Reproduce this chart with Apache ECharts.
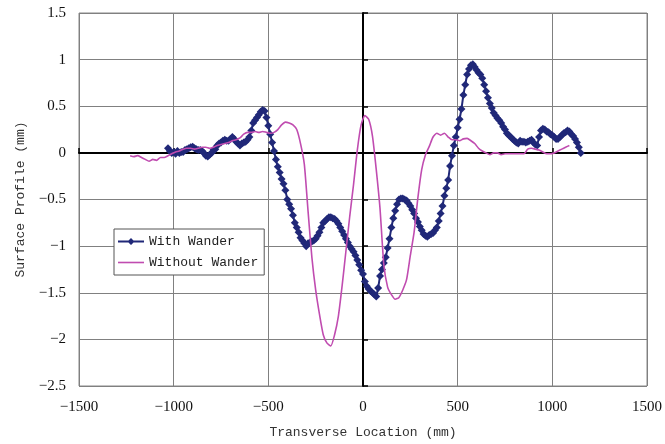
<!DOCTYPE html>
<html><head><meta charset="utf-8">
<script src="https://cdn.jsdelivr.net/npm/echarts@6/dist/echarts.min.js"></script>
<style>html,body{margin:0;padding:0;background:#fff}#c{width:665px;height:444px}</style>
</head><body><div id="c"></div>
<script>
// ---- data ----
const withStart = -1030, withStep = 10;
const withWander = [
 0.05,0.02,0.00,0.01,-0.01,0.02,0.00,0.01,0.01,0.03,
 0.04,0.05,0.06,0.065,0.05,0.04,0.03,0.03,0.02,0.00,
 -0.03,-0.04,-0.02,0.00,0.03,0.04,0.08,0.10,0.11,0.13,
 0.14,0.13,0.13,0.15,0.17,0.15,0.12,0.10,0.08,0.10,
 0.11,0.12,0.14,0.17,0.24,0.32,0.35,0.38,0.41,0.44,
 0.46,0.45,0.38,0.29,0.20,0.11,0.02,-0.07,-0.15,-0.21,
 -0.28,-0.33,-0.40,-0.50,-0.55,-0.60,-0.67,-0.75,-0.80,-0.85,
 -0.91,-0.94,-0.97,-1.00,-0.97,-0.96,-0.95,-0.94,-0.92,-0.89,
 -0.85,-0.80,-0.75,-0.73,-0.71,-0.69,-0.69,-0.70,-0.71,-0.73,
 -0.76,-0.80,-0.84,-0.88,-0.92,-0.96,-1.00,-1.03,-1.06,-1.10,
 -1.15,-1.20,-1.26,-1.30,-1.38,-1.43,-1.46,-1.48,-1.50,-1.52,
 -1.54,-1.45,-1.32,-1.25,-1.18,-1.12,-1.02,-0.92,-0.80,-0.70,
 -0.62,-0.55,-0.50,-0.49,-0.49,-0.50,-0.51,-0.54,-0.57,-0.61,
 -0.65,-0.70,-0.74,-0.79,-0.83,-0.87,-0.89,-0.90,-0.88,-0.87,
 -0.86,-0.83,-0.80,-0.73,-0.65,-0.57,-0.46,-0.38,-0.29,-0.14,
 -0.03,0.08,0.17,0.27,0.36,0.47,0.62,0.73,0.84,0.90,
 0.94,0.95,0.92,0.89,0.86,0.84,0.80,0.73,0.66,0.59,
 0.53,0.48,0.43,0.40,0.37,0.35,0.32,0.28,0.25,0.21,
 0.19,0.17,0.15,0.13,0.11,0.10,0.13,0.12,0.12,0.11,
 0.12,0.13,0.14,0.11,0.09,0.08,0.17,0.24,0.26,0.25,
 0.23,0.22,0.20,0.19,0.17,0.15,0.15,0.17,0.19,0.21,
 0.22,0.24,0.23,0.20,0.18,0.15,0.11,0.06,0.00
];
const withoutStart = -1230, withoutStep = 20;
const withoutWander = [
 -0.03,-0.04,-0.03,-0.05,-0.07,-0.09,-0.07,-0.08,-0.05,-0.05,
 -0.03,-0.01,0.01,0.02,0.04,0.05,0.05,0.04,0.05,0.06,
 0.06,0.05,0.06,0.08,0.09,0.10,0.11,0.13,0.14,0.16,
 0.20,0.22,0.22,0.23,0.22,0.23,0.22,0.21,0.22,0.25,
 0.30,0.33,0.32,0.30,0.25,0.10,-0.12,-0.63,-1.12,-1.47,
 -1.73,-1.95,-2.04,-2.07,-1.95,-1.75,-1.42,-1.05,-0.68,-0.34,
 0.03,0.30,0.40,0.36,0.18,-0.18,-0.60,-1.20,-1.44,-1.52,
 -1.57,-1.55,-1.47,-1.36,-1.10,-0.85,-0.48,-0.18,-0.02,0.07,
 0.17,0.21,0.19,0.21,0.17,0.14,0.14,0.13,0.15,0.155,
 0.13,0.10,0.05,0.02,0.00,-0.02,0.00,0.00,-0.02,-0.01,
 -0.01,-0.01,-0.01,-0.01,-0.01,0.04,0.05,0.04,0.03,0.01,
 -0.01,-0.01,0.00,0.02,0.04,0.06,0.08
];
const xTicks = {min:-1500, max:1500, interval:500};
const yTicks = {min:-2.5, max:1.5, interval:0.5};
const seriesNames = ['With Wander','Without Wander'];
const xTitle = 'Transverse Location (mm)';
const yTitle = 'Surface Profile (mm)';

const pairs = (start, step, arr) => arr.map((v,i)=>[start+i*step, v]);
const fmt = v => String(v).replace('-', '\u2212');

const chart = echarts.init(document.getElementById('c'), null, {renderer:'canvas'});
const serif = '"Liberation Serif", serif';
const mono = '"Liberation Mono", monospace';
chart.setOption({
  animation:false,
  backgroundColor:'#fff',
  grid:{left:79, right:17, top:13, bottom:58, show:true, borderColor:'#888', borderWidth:1, containLabel:false},
  legend:{
    left:114, top:229, orient:'vertical', itemGap:8, itemWidth:26, itemHeight:14,
    padding:[6,6,6,4], borderColor:'#555', borderWidth:1, backgroundColor:'#fff',
    textStyle:{fontFamily:mono, fontSize:13, color:'#222'},
    data:[
      {name:seriesNames[0], icon:'path://M0,6h26v2h-26z M13,3.5L16.5,7L13,10.5L9.5,7z'},
      {name:seriesNames[1], icon:'path://M0,0h26v1.6h-26z'}
    ]
  },
  xAxis:[{
    type:'value', min:xTicks.min, max:xTicks.max, interval:xTicks.interval,
    axisLine:{show:false, onZero:false}, axisTick:{show:false},
    axisLabel:{fontFamily:serif, fontSize:15, color:'#111', margin:14, formatter:fmt},
    splitLine:{lineStyle:{color:'#808080', width:1}},
    name:xTitle, nameLocation:'middle', nameGap:40,
    nameTextStyle:{fontFamily:mono, fontSize:13, color:'#333'}
  },{
    type:'value', min:xTicks.min, max:xTicks.max, interval:xTicks.interval, position:'bottom',
    axisLine:{show:true, onZero:true, onZeroAxisIndex:0, lineStyle:{color:'#000', width:2}},
    axisTick:{show:true, inside:true, length:5, lineStyle:{color:'#000', width:1.5}},
    axisLabel:{show:false}, splitLine:{show:false}
  }],
  yAxis:[{
    type:'value', min:yTicks.min, max:yTicks.max, interval:yTicks.interval,
    axisLine:{show:false, onZero:false}, axisTick:{show:false},
    axisLabel:{fontFamily:serif, fontSize:15, color:'#111', margin:13, formatter:fmt},
    splitLine:{lineStyle:{color:'#808080', width:1}},
    name:yTitle, nameLocation:'middle', nameGap:52,
    nameTextStyle:{fontFamily:mono, fontSize:13, color:'#333'}
  },{
    type:'value', min:yTicks.min, max:yTicks.max, interval:yTicks.interval, position:'left',
    axisLine:{show:true, onZero:true, onZeroAxisIndex:0, lineStyle:{color:'#000', width:2}},
    axisTick:{show:true, inside:true, length:5, lineStyle:{color:'#000', width:1.5}},
    axisLabel:{show:false}, splitLine:{show:false}
  }],
  series:[{
    name:seriesNames[0], type:'line', xAxisIndex:0, yAxisIndex:0,
    data:pairs(withStart, withStep, withWander),
    symbol:'diamond', symbolSize:8, showSymbol:true,
    lineStyle:{color:'#202878', width:2}, itemStyle:{color:'#202878'}, color:'#202878', z:3
  },{
    name:seriesNames[1], type:'line', xAxisIndex:0, yAxisIndex:0,
    data:pairs(withoutStart, withoutStep, withoutWander),
    symbol:'none', showSymbol:false, smooth:0.2,
    lineStyle:{color:'#c04cb0', width:1.6}, itemStyle:{color:'#c04cb0'}, color:'#c04cb0', z:4
  }]
});
</script></body></html>
